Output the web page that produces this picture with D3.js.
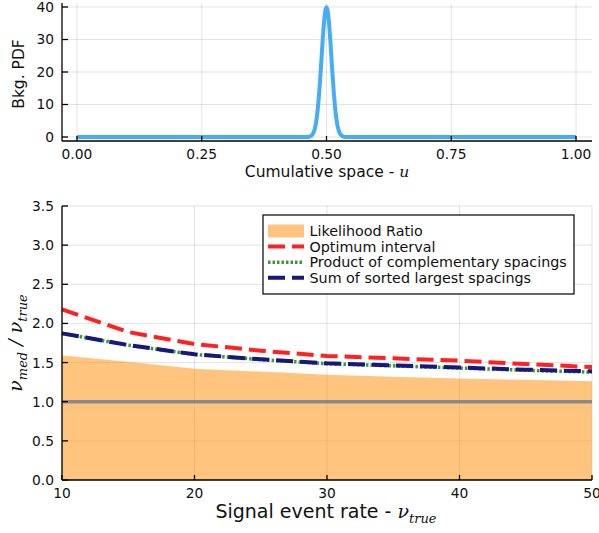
<!DOCTYPE html>
<html><head><meta charset="utf-8">
<script src="https://cdn.jsdelivr.net/npm/d3@7"></script>
<style>body{margin:0;background:#fff}svg{display:block}</style>
</head><body>
<svg id="c" width="599" height="533"></svg>
<script>
// ---------- data ----------
const pdfU = [0, 0.44, 0.46, 0.465, 0.47, 0.4725, 0.475, 0.4775, 0.48, 0.4825, 0.485, 0.4875, 0.49, 0.4925, 0.495, 0.4975, 0.5,
              0.5025, 0.505, 0.5075, 0.51, 0.5125, 0.515, 0.5175, 0.52, 0.5225, 0.525, 0.5275, 0.53, 0.535, 0.54, 0.56, 1];
const pdfV = [0, 0, 0.01, 0.09, 0.44, 0.91, 1.75, 3.17, 5.4, 8.63, 12.95, 18.3, 24.2, 30.1, 35.2, 38.7, 39.9,
              38.7, 35.2, 30.1, 24.2, 18.3, 12.95, 8.63, 5.4, 3.17, 1.75, 0.91, 0.44, 0.09, 0.01, 0, 0];
const topXTicks = [0, 0.25, 0.5, 0.75, 1];
const topXTickLabels = ["0.00", "0.25", "0.50", "0.75", "1.00"];
const topYTicks = [0, 10, 20, 30, 40];

const rates = [10, 15, 20, 25, 30, 35, 40, 45, 50];
const likelihoodRatio = [1.59, 1.51, 1.42, 1.385, 1.345, 1.32, 1.295, 1.28, 1.262];
const optimumInterval = [2.18, 1.89, 1.737, 1.652, 1.584, 1.554, 1.524, 1.481, 1.443];
const productSpacings = [1.873, 1.722, 1.603, 1.538, 1.486, 1.458, 1.43, 1.402, 1.378];
const sumSpacings     = [1.873, 1.724, 1.605, 1.541, 1.49, 1.464, 1.436, 1.409, 1.388];
const refLevel = 1.0;
const botXTicks = [10, 20, 30, 40, 50];
const botYTicks = [0, 0.5, 1, 1.5, 2, 2.5, 3, 3.5];
const botYTickLabels = ["0.0", "0.5", "1.0", "1.5", "2.0", "2.5", "3.0", "3.5"];
const legendLabels = ["Likelihood Ratio", "Optimum interval", "Product of complementary spacings", "Sum of sorted largest spacings"];

// ---------- drawing ----------
const svg = d3.select("#c");
const FONT = "DejaVu Sans";
const GRID = "rgba(0,0,0,0.11)";

function frame(g, x, y, xt, yt, x0, x1, y0, y1) {
  g.append("g").selectAll("line").data(xt).join("line")
    .attr("x1", d => x(d)).attr("x2", d => x(d)).attr("y1", y0).attr("y2", y1)
    .attr("stroke", GRID).attr("stroke-width", 1);
  g.append("g").selectAll("line").data(yt).join("line")
    .attr("x1", x0).attr("x2", x1).attr("y1", d => y(d)).attr("y2", d => y(d))
    .attr("stroke", GRID).attr("stroke-width", 1);
}
function axes(g, x, y, xt, xl, yt, yl, x0, x1, y0, y1, tickY) {
  g.append("line").attr("x1", x0).attr("x2", x1).attr("y1", y1).attr("y2", y1).attr("stroke", "#000").attr("stroke-width", 1.3);
  g.append("line").attr("x1", x0).attr("x2", x0).attr("y1", y0).attr("y2", y1).attr("stroke", "#000").attr("stroke-width", 1.3);
  g.append("g").selectAll("line").data(xt).join("line")
    .attr("x1", d => x(d)).attr("x2", d => x(d)).attr("y1", y1).attr("y2", y1 - 5)
    .attr("stroke", "#000").attr("stroke-width", 1.3);
  g.append("g").selectAll("line").data(yt).join("line")
    .attr("x1", x0).attr("x2", x0 + 6).attr("y1", d => y(d)).attr("y2", d => y(d))
    .attr("stroke", "#000").attr("stroke-width", 1.3);
  g.append("g").selectAll("text").data(xt).join("text")
    .attr("x", d => x(d)).attr("y", tickY).attr("text-anchor", "middle")
    .attr("font-family", FONT).attr("font-size", 13.8).attr("fill", "#111")
    .text((d, i) => xl[i]);
  g.append("g").selectAll("text").data(yt).join("text")
    .attr("x", x0 - 8).attr("y", d => y(d)).attr("dy", "0.36em").attr("text-anchor", "end")
    .attr("font-family", FONT).attr("font-size", 13.8).attr("fill", "#111")
    .text((d, i) => yl[i]);
}

// ---- top panel ----
const xTop = d3.scaleLinear().domain([-0.03, 1.032]).range([62, 592]);
const yTop = d3.scaleLinear().domain([-1.23, 41.23]).range([141, 3]);
const gt = svg.append("g");
frame(gt, xTop, yTop, topXTicks, topYTicks, 62, 592, 3, 141);
gt.append("path")
  .datum(pdfU.map((u, i) => [u, pdfV[i]]))
  .attr("d", d3.line().x(d => xTop(d[0])).y(d => yTop(d[1])).curve(d3.curveMonotoneX))
  .attr("fill", "none").attr("stroke", "#45adf2").attr("stroke-width", 4);
axes(gt, xTop, yTop, topXTicks, topXTickLabels, topYTicks, topYTicks.map(String), 62, 592, 3, 141, 159);
const tl = gt.append("text").attr("x", 327).attr("y", 177).attr("text-anchor", "middle")
  .attr("font-family", FONT).attr("font-size", 15.5).attr("fill", "#111");
tl.append("tspan").text("Cumulative space - ");
tl.append("tspan").attr("font-family", "DejaVu Serif").attr("font-style", "italic").text("u");
gt.append("text").attr("transform", "translate(24,74) rotate(-90)").attr("text-anchor", "middle")
  .attr("font-family", FONT).attr("font-size", 15.5).attr("fill", "#111").text("Bkg. PDF");

// ---- bottom panel ----
const xB = d3.scaleLinear().domain([10, 50]).range([62, 592]);
const yB = d3.scaleLinear().domain([0, 3.5]).range([480, 206]);
const gb = svg.append("g");
frame(gb, xB, yB, botXTicks, botYTicks, 62, 592, 206, 480);
gb.append("path")
  .datum(rates.map((r, i) => [r, likelihoodRatio[i]]))
  .attr("d", d3.area().x(d => xB(d[0])).y0(yB(0)).y1(d => yB(d[1])))
  .attr("fill", "#ff8c00").attr("fill-opacity", 0.5);
gb.append("line").attr("x1", xB(10)).attr("x2", xB(50)).attr("y1", yB(refLevel)).attr("y2", yB(refLevel))
  .attr("stroke", "#8a8a8a").attr("stroke-width", 3.5);
const lineB = d3.line().x(d => xB(d[0])).y(d => yB(d[1]));
const series = [
  {v: optimumInterval, c: "#ff2020", dash: "17,7", w: 4},
  {v: productSpacings, c: "#3a9a3a", dash: "2.5,2", w: 3.5},
  {v: sumSpacings, c: "#17177e", dash: "17,7", w: 4}
];
series.forEach(s => {
  gb.append("path").datum(rates.map((r, i) => [r, s.v[i]])).attr("d", lineB)
    .attr("fill", "none").attr("stroke", s.c).attr("stroke-width", s.w)
    .attr("stroke-dasharray", s.dash);
});
axes(gb, xB, yB, botXTicks, botXTicks.map(String), botYTicks, botYTickLabels, 62, 592, 206, 480, 498);

// x label
const bxl = gb.append("text").attr("x", 326).attr("y", 518).attr("text-anchor", "middle")
  .attr("font-family", FONT).attr("font-size", 19).attr("fill", "#111");
bxl.append("tspan").text("Signal event rate - ");
bxl.append("tspan").attr("font-family", "DejaVu Serif").attr("font-style", "italic").text("ν");
bxl.append("tspan").attr("font-family", "DejaVu Serif").attr("font-style", "italic").attr("font-size", 13).attr("dy", 5).text("true");

// y label
const byl = gb.append("text").attr("transform", "translate(22,343) rotate(-90)").attr("text-anchor", "middle")
  .attr("font-family", "DejaVu Serif").attr("font-style", "italic").attr("font-size", 19).attr("fill", "#111");
byl.append("tspan").text("ν");
byl.append("tspan").attr("font-size", 13).attr("dy", 5).text("med");
byl.append("tspan").attr("dy", -5).text(" / ν");
byl.append("tspan").attr("font-size", 13).attr("dy", 5).text("true");

// legend
const lg = gb.append("g");
lg.append("rect").attr("x", 263).attr("y", 215).attr("width", 311).attr("height", 79)
  .attr("fill", "#fff").attr("stroke", "#000").attr("stroke-width", 1.2);
const rowY = i => 231 + i * 15.6;
lg.append("rect").attr("x", 268).attr("y", rowY(0) - 6.5).attr("width", 36).attr("height", 13)
  .attr("fill", "#ff8c00").attr("fill-opacity", 0.5);
series.forEach((s, k) => {
  lg.append("line").attr("x1", 268).attr("x2", 304).attr("y1", rowY(k + 1)).attr("y2", rowY(k + 1))
    .attr("stroke", s.c).attr("stroke-width", s.w).attr("stroke-dasharray", s.dash);
});
lg.selectAll("text.l").data(legendLabels).join("text").attr("class", "l")
  .attr("x", 309.5).attr("y", (d, i) => rowY(i)).attr("dy", "0.36em")
  .attr("font-family", FONT).attr("font-size", 14.3).attr("fill", "#111").text(d => d);
</script>
</body></html>
